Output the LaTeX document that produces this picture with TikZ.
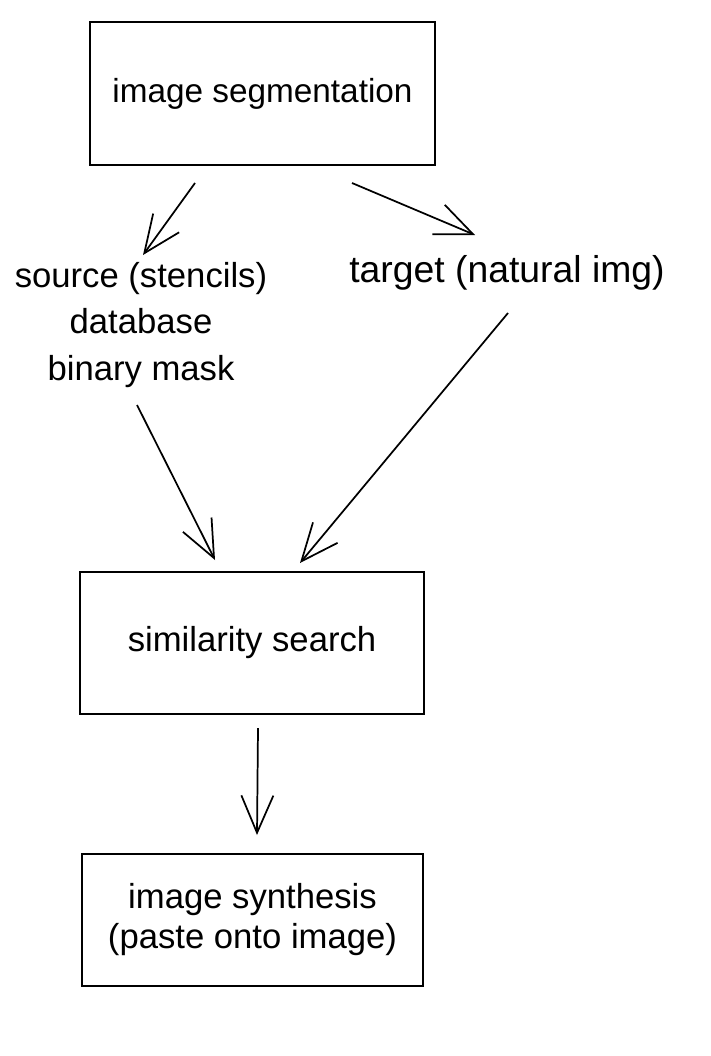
\documentclass[tikz,border=0pt]{standalone}
\usepackage{fontspec}
\setmainfont{Liberation Sans}
\usepackage{tikz}
\usetikzlibrary{arrows.meta,positioning}

\begin{document}
\begin{tikzpicture}[x=0.75pt, y=-0.75pt]
		\tikzstyle{Step} 	= [draw, line width=1.4pt, minimum width=#1, inner sep=0pt, align=center, font=\fontsize{26}{30}\selectfont]
		\tikzstyle{Label}	= [align=center, inner sep=0pt, font=\fontsize{26}{35}\selectfont]
		\tikzstyle{Flow}	= [line width=1.3pt, -{Straight Barb[length=28pt, width=24pt, line width=1.3pt]}]

		\useasboundingbox (0,0) rectangle (710,1056);

		\node (seg) at (262.5, 93.5) [Step=258.75pt, minimum height=107.25pt, font=\fontsize{25}{30}\selectfont] {image segmentation};
		\node (src) at (141, 325) [Label] {source (stencils)\\database\\binary mask};
		\node (tgt) at (507, 273) [Label, font=\fontsize{28}{35}\selectfont] {target (natural img)};
		\node (sim) at (252, 643) [Step=258pt, minimum height=106.5pt] {similarity search};
		\node (syn) at (252.5, 920) [Step=255.75pt, minimum height=99pt] {image synthesis\\(paste onto image)};

		\draw [Flow] ([shift={(-67.5,89.5)}]seg.center) to ([shift={(2,-70)}]src.center);
		\draw [Flow] ([shift={(89.5,89.5)}]seg.center) to ([shift={(-32,-38)}]tgt.center);
		\draw [Flow] ([shift={(-4,80)}]src.center) to ([shift={(-37,-83)}]sim.center);
		\draw [Flow] ([shift={(1,40)}]tgt.center) to ([shift={(48,-80)}]sim.center);
		\draw [Flow] ([shift={(6,85)}]sim.center) to ([shift={(4.5,-85)}]syn.center);
	\end{tikzpicture}
\end{document}
